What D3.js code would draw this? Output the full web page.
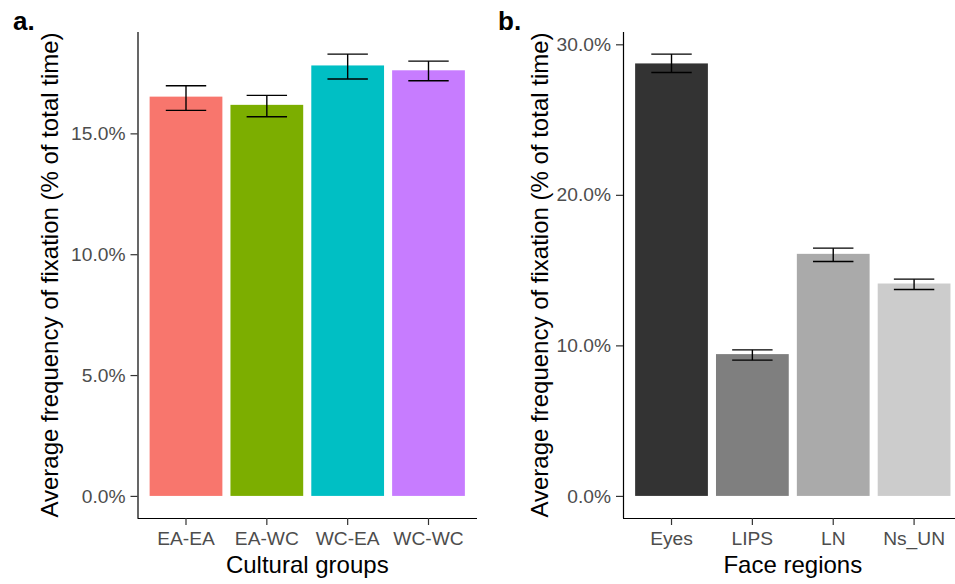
<!DOCTYPE html>
<html>
<head>
<meta charset="utf-8">
<script src="https://cdn.jsdelivr.net/npm/d3@7"></script>
<style>
  body { margin: 0; background: #fff; }
  svg { display: block; font-family: "Liberation Sans", Arial, sans-serif; }
</style>
</head>
<body>
<svg width="955" height="584"></svg>
<script>
// panel a: cultural groups
const gruposA = ['EA-EA', 'EA-WC', 'WC-EA', 'WC-WC'];
const mediaA = [16.52, 16.18, 17.81, 17.61];
const supA = [16.97, 16.57, 18.28, 17.99];
const infA = [15.95, 15.69, 17.25, 17.18];
const coresA = ['#F8766D', '#7CAE00', '#00BFC4', '#C77CFF'];
const ticksA = [0, 5, 10, 15];

// panel b: face regions
const gruposB = ['Eyes', 'LIPS', 'LN', 'Ns_UN'];
const mediaB = [28.73, 9.42, 16.08, 14.11];
const supB = [29.35, 9.70, 16.46, 14.40];
const infB = [28.13, 9.02, 15.57, 13.71];
const coresB = ['#333333', '#7F7F7F', '#AAAAAA', '#CCCCCC'];
const ticksB = [0, 10, 20, 30];

const svg = d3.select('svg');
const topo = 32, baixo = 518;

const painel = (cfg) => {
    const dados = cfg.grupos.map((g, i) => ({
        grupo: g, media: cfg.media[i], sup: cfg.sup[i], inf: cfg.inf[i], cor: cfg.cores[i]
    }));
    const ymax = d3.max(dados, d => d.sup);

    const xEscala = d3.scaleBand()
        .domain(cfg.grupos)
        .range([cfg.esq, cfg.dir])
        .paddingInner(0.1)
        .paddingOuter(0.15);

    const yEscala = d3.scaleLinear()
        .domain([-0.05 * ymax, 1.05 * ymax])
        .range([baixo, topo]);

    const g = svg.append('g');

    g.selectAll('rect').data(dados)
        .enter().append('rect')
            .attr('x', d => xEscala(d.grupo))
            .attr('width', xEscala.bandwidth())
            .attr('y', d => yEscala(d.media))
            .attr('height', d => yEscala(0) - yEscala(d.media))
            .attr('fill', d => d.cor);

    // barras de erro
    const passo = xEscala.step();
    const eb = g.selectAll('.eb').data(dados).enter().append('g')
        .attr('stroke', '#000').attr('stroke-width', 1.4).attr('fill', 'none');
    eb.append('line')
        .attr('x1', d => xEscala(d.grupo) + xEscala.bandwidth() / 2)
        .attr('x2', d => xEscala(d.grupo) + xEscala.bandwidth() / 2)
        .attr('y1', d => yEscala(d.sup)).attr('y2', d => yEscala(d.inf));
    [ 'sup', 'inf' ].forEach(k => {
        eb.append('line')
            .attr('x1', d => xEscala(d.grupo) + xEscala.bandwidth() / 2 - passo / 4)
            .attr('x2', d => xEscala(d.grupo) + xEscala.bandwidth() / 2 + passo / 4)
            .attr('y1', d => yEscala(d[k])).attr('y2', d => yEscala(d[k]));
    });

    // eixos
    const eixoY = g.append('g')
        .attr('transform', `translate(${cfg.esq},0)`)
        .call(d3.axisLeft(yEscala).tickValues(cfg.ticks)
            .tickFormat(v => v.toFixed(1) + '%').tickSizeInner(7).tickSizeOuter(0).tickPadding(5));
    const eixoX = g.append('g')
        .attr('transform', `translate(0,${baixo})`)
        .call(d3.axisBottom(xEscala).tickSizeInner(7).tickSizeOuter(0).tickPadding(6));

    [eixoY, eixoX].forEach(e => {
        e.select('.domain').attr('stroke', '#000').attr('stroke-width', 1.2);
        e.selectAll('.tick line').attr('stroke', '#333').attr('stroke-width', 1.2);
        e.selectAll('.tick text').attr('fill', '#4D4D4D')
            .style('font-size', '19.2px').style('font-family', '"Liberation Sans", Arial, sans-serif');
    });
    eixoY.select('.domain').attr('d', `M0.5,${topo}V${baixo}`);
    eixoX.select('.domain').attr('d', `M${cfg.esq},0.5H${cfg.dir}`);

    g.append('text')
        .attr('x', (cfg.esq + cfg.dir) / 2)
        .attr('y', 573)
        .attr('text-anchor', 'middle')
        .style('font-size', '24px')
        .text(cfg.tituloX);

    g.append('text')
        .attr('transform', `translate(${cfg.yTitulo},${(topo + baixo) / 2}) rotate(-90)`)
        .attr('text-anchor', 'middle')
        .style('font-size', '24px')
        .text('Average frequency of fixation (% of total time)');

    svg.append('text')
        .attr('x', cfg.rotX).attr('y', 30)
        .style('font-size', '26px').style('font-weight', 'bold')
        .text(cfg.rotulo);
};

painel({ grupos: gruposA, media: mediaA, sup: supA, inf: infA, cores: coresA, ticks: ticksA,
         esq: 137.5, dir: 477, tituloX: 'Cultural groups', yTitulo: 58, rotulo: 'a.', rotX: 13 });
painel({ grupos: gruposB, media: mediaB, sup: supB, inf: infB, cores: coresB, ticks: ticksB,
         esq: 623, dir: 962.6, tituloX: 'Face regions', yTitulo: 547.5, rotulo: 'b.', rotX: 498 });
</script>
</body>
</html>
